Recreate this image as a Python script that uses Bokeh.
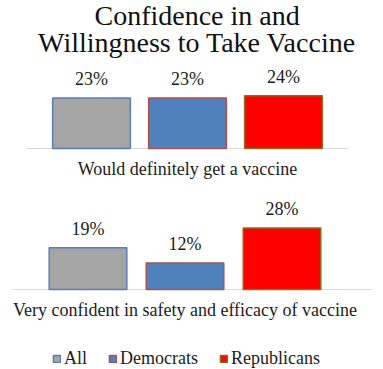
from bokeh.plotting import figure
from bokeh.layouts import column
from bokeh.models import ColumnDataSource, Range1d, Legend, LegendItem
from bokeh.core.properties import value
from bokeh.embed import file_html
from bokeh.resources import INLINE

# ---- data ----
title_lines = ["Confidence in and", "Willingness to Take Vaccine"]
categories = ["All", "Democrats", "Republicans"]
definitely = [23, 23, 24]
confident = [19, 12, 28]
panel_labels = ["Would definitely get a vaccine",
                "Very confident in safety and efficacy of vaccine"]
fill_colors = ["#a5a5a5", "#4f81bd", "#ff0000"]
edge_colors = ["#5b7db5", "#b0504d", "#8a6d1f"]

FONT_NAME = "Liberation Serif"
FONT = value(FONT_NAME)
TXT = "#1c1c1c"
W = 383
PX_PER_PCT = 2.2


def make_panel(vals, label, height, base_from_top, x0_px, spacing_px, bar_w,
               line_x, show_title=False, show_legend=False):
    below = height - base_from_top
    p = figure(width=W, height=height, output_backend="svg", toolbar_location=None,
               x_range=Range1d(-x0_px / spacing_px, (W - x0_px) / spacing_px),
               y_range=Range1d(-below / PX_PER_PCT, base_from_top / PX_PER_PCT),
               x_axis_location=None, y_axis_location=None,
               min_border=0, outline_line_color=None)
    p.grid.visible = False
    xs = list(range(len(categories)))
    src = ColumnDataSource(dict(x=xs, top=vals, cat=categories, fill=fill_colors,
                                edge=edge_colors,
                                lab=[f"{v}%" for v in vals]))
    # baseline
    p.segment(x0=[line_x[0]], y0=[0], x1=[line_x[1]], y1=[0],
              line_color="#d9d9d9", line_width=1.2)
    r = p.vbar(x="x", top="top", bottom=0, width=bar_w, source=src,
               fill_color="fill", line_color="edge", line_width=1.5)
    p.text(x="x", y="top", text="lab", source=src, y_offset=-19,
           text_align="center", text_baseline="alphabetic",
           text_font=FONT, text_font_size="18px", text_color=TXT)
    p.text(x=[1], y=[0], text=[label], y_offset=20.5, text_align="center",
           text_baseline="alphabetic", text_font=FONT, text_font_size="18px",
           text_color=TXT)
    if show_title:
        top = base_from_top / PX_PER_PCT
        for i, t in enumerate(title_lines):
            p.text(x=[1.1], y=[top], text=[t], y_offset=15 + 27 * i,
                   text_align="center", text_baseline="alphabetic",
                   text_font=FONT, text_font_size="28px",
                   text_color="#111111")
    if show_legend:
        items = [LegendItem(label=c, renderers=[r], index=i)
                 for i, c in enumerate(categories)]
        leg = Legend(items=items, orientation="horizontal", location=(52, 0),
                     padding=0, margin=0, spacing=21, label_standoff=3,
                     glyph_width=9, glyph_height=9,
                     label_text_font=FONT_NAME, label_text_font_size="18px",
                     label_text_color=TXT, border_line_color=None,
                     background_fill_alpha=0)
        p.add_layout(leg)
    return p


p1 = make_panel(definitely, panel_labels[0], 190, 148, 91, 96, 0.81,
                (-0.68, 2.67), show_title=True)
p2 = make_panel(confident, panel_labels[1], 179, 99, 87.5, 97, 0.8,
                (-0.78, 2.93), show_legend=True)

layout = column(p1, p2, spacing=0)
open("out.html", "w").write(file_html(layout, INLINE))
